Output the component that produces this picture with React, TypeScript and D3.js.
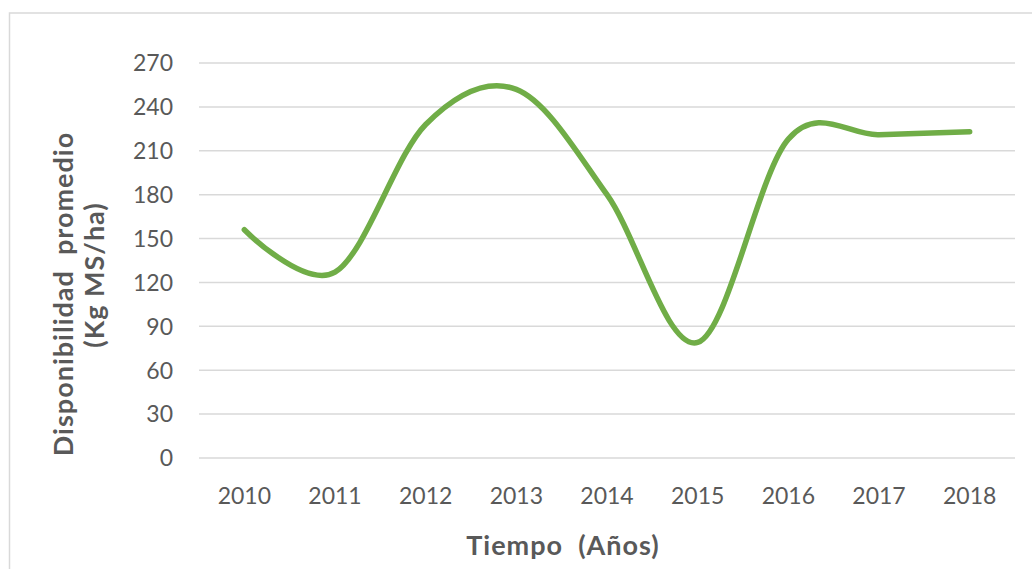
// @ts-nocheck
import React, { useEffect, useRef } from 'react';
import * as d3 from 'd3';

const years = ['2010', '2011', '2012', '2013', '2014', '2015', '2016', '2017', '2018'];
const disponibilidad = [156, 127, 228, 252, 180, 79, 218, 221, 223];
const yTicks = [0, 30, 60, 90, 120, 150, 180, 210, 240, 270];

const App = () => {
  const svgRef = useRef(null);

  useEffect(() => {
    const width = 1032;
    const height = 569;
    const font = 'Lato, "Open Sans", sans-serif';

    const svg = d3.select(svgRef.current)
      .attr('width', width)
      .attr('height', height)
      .attr('viewBox', [0, 0, width, height]);

    svg.selectAll('*').remove();

    svg.append('rect')
      .attr('width', width)
      .attr('height', height)
      .attr('fill', '#fff');

    // chart frame (right and bottom edges fall outside the picture)
    svg.append('rect')
      .attr('x', 9.5)
      .attr('y', 13)
      .attr('width', 1040)
      .attr('height', 600)
      .attr('fill', 'none')
      .attr('stroke', '#d9d9d9')
      .attr('stroke-width', 1.5);

    const x = d3.scalePoint().domain(years).range([199, 1015]).padding(0.5);
    const y = d3.scaleLinear().domain([0, 270]).range([458, 63]);

    const grid = svg.append('g');
    grid.selectAll('line')
      .data(yTicks)
      .join('line')
      .attr('x1', 199)
      .attr('x2', 1015)
      .attr('y1', d => y(d))
      .attr('y2', d => y(d))
      .attr('stroke', '#d9d9d9')
      .attr('stroke-width', 1.5);

    svg.append('g')
      .selectAll('text')
      .data(yTicks)
      .join('text')
      .attr('x', 173)
      .attr('y', d => y(d))
      .attr('dy', '0.36em')
      .attr('text-anchor', 'end')
      .attr('font-family', font)
      .attr('font-size', 23)
      .attr('fill', '#595959')
      .text(d => d);

    svg.append('g')
      .selectAll('text')
      .data(years)
      .join('text')
      .attr('x', d => x(d))
      .attr('y', 504)
      .attr('text-anchor', 'middle')
      .attr('font-family', font)
      .attr('font-size', 23)
      .attr('fill', '#595959')
      .text(d => d);

    const line = d3.line()
      .x((d, i) => x(years[i]))
      .y(d => y(d))
      .curve(d3.curveCatmullRom.alpha(0));

    svg.append('path')
      .datum(disponibilidad)
      .attr('d', line)
      .attr('fill', 'none')
      .attr('stroke', '#70ad47')
      .attr('stroke-width', 5.5)
      .attr('stroke-linecap', 'round')
      .attr('stroke-linejoin', 'round');

    const title = (sel) => sel
      .attr('text-anchor', 'middle')
      .attr('font-family', font)
      .attr('font-size', 27)
      .attr('font-weight', 'bold')
      .attr('letter-spacing', 1)
      .attr('fill', '#595959')
      .attr('style', 'white-space: pre');

    svg.append('text')
      .attr('x', 563)
      .attr('y', 555)
      .call(title)
      .text('Tiempo  (Años)');

    svg.append('text')
      .attr('transform', 'translate(73,294) rotate(-90)')
      .call(title)
      .text('Disponibilidad  promedio');

    svg.append('text')
      .attr('transform', 'translate(104,275) rotate(-90)')
      .call(title)
      .text('(Kg MS/ha)');
  }, []);

  return <svg ref={svgRef} style={{ position: 'absolute', left: 0, top: 0, display: 'block' }}></svg>;
};

export default App;
